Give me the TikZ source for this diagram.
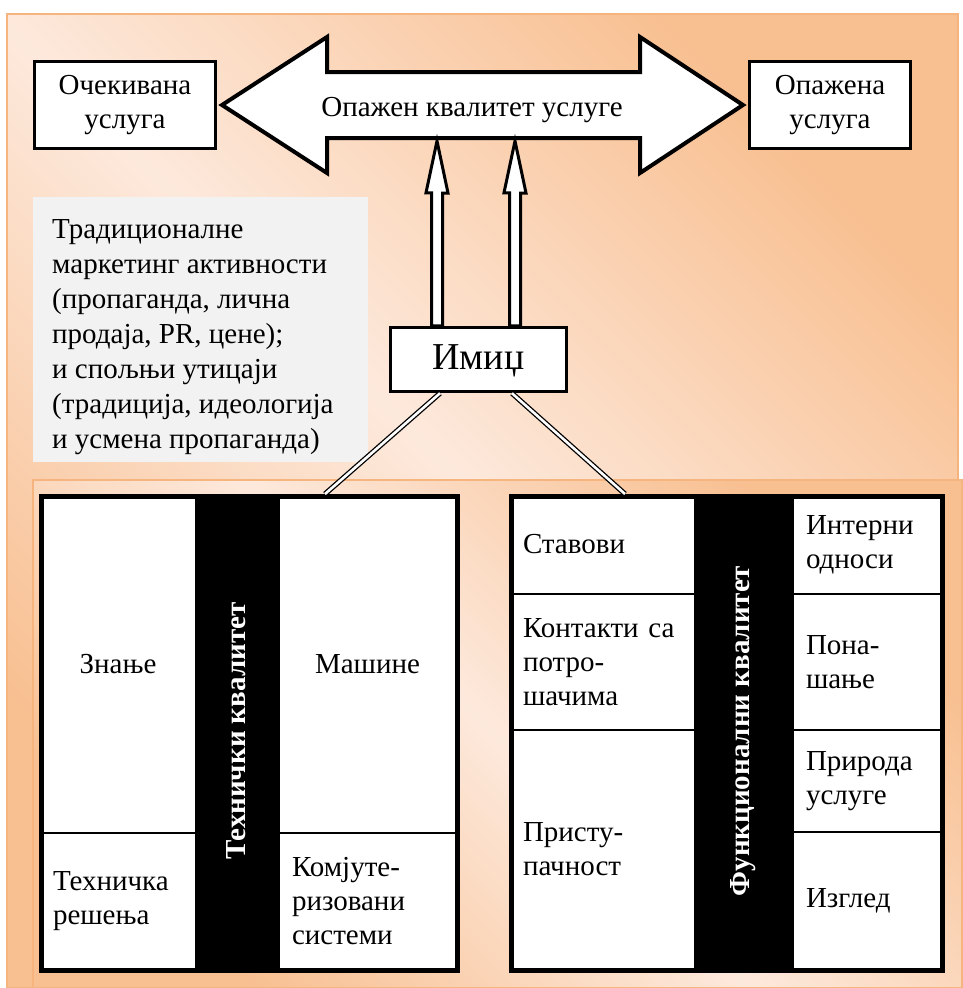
\documentclass[tikz,border=0pt]{standalone}
\usepackage{fontspec}
\setmainfont{Liberation Serif}
\usetikzlibrary{calc}
\definecolor{peachlt}{HTML}{FDE9DC}
\definecolor{peachdk}{HTML}{F8BF90}
\definecolor{peachln}{HTML}{F6B47F}
\definecolor{boxgray}{HTML}{F2F2F2}

\begin{document}
\begin{tikzpicture}[x=1pt,y=-1pt,
  every node/.style={font=\fontsize{29}{34}\selectfont, inner sep=0},
  panel/.style={top color=peachdk, bottom color=peachdk, middle color=peachlt,
                shading angle=135, draw=peachln, line width=2},
  tbox/.style={draw, line width=3.5, fill=white, align=center},
  cell/.style={draw, line width=2, fill=white, anchor=north west},
  lcell/.style={cell, align=left, inner xsep=13},
  bar/.style={fill=black, text=white, rotate=90,
              font=\fontsize{29}{34}\selectfont\bfseries},
  frame/.style={draw, line width=4.5, anchor=north west},
  blk/.style={draw, line width=3, fill=white, line join=miter},
  dbl/.style={draw, double=white, line width=1.3, double distance=2.6}
]
\useasboundingbox (0,0) rectangle (962,988);

% background panels
\shade[panel] (7,14) rectangle (958,988);
\shade[panel] (33,480) rectangle (962,988);

% note on other influences
\node[fill=boxgray, minimum width=335, minimum height=265, anchor=north west] (trad) at (33,197) {};
\node[anchor=north west, align=left, font=\fontsize{29}{35}\selectfont] (tradtxt)
  at ($(trad.north west)+(19,22)$)
  {Традиционалне\\маркетинг активности\\(пропаганда, лична\\продаја, PR, цене);\\и спољњи утицаји\\(традиција, идеологија\\и усмена пропаганда)};

% expected and perceived service
\node[tbox, minimum width=181, minimum height=87] (exp) at (125,105) {Очекивана\\услуга};
\node[tbox, minimum width=161, minimum height=87] (per) at (830,105) {Опажена\\услуга};

% perceived service quality: double block arrow
\draw[blk, line width=4] (222,105) -- (327,37) -- (327,72) -- (640,72) -- (640,37)
  -- (743,105) -- (640,173) -- (640,138) -- (327,138) -- (327,173) -- cycle;
\node (pq) at (472,110) {Опажен квалитет услуге};

% image
\node[tbox, minimum width=176, minimum height=64, text depth=4,
      font=\fontsize{38}{44}\selectfont] (img) at (478.5,359.5) {Имиџ};

% block arrows from the image up to the perceived quality
\coordinate (u1) at (437,141);
\coordinate (u2) at (515,141);
\draw[blk] (u1 |- img.north) ++(-5.5,0) -- ++(0,-133) -- ++(-5.5,0) -- (u1)
  -- ++(11,52) -- ++(-5.5,0) -- ++(0,133) -- cycle;
\draw[blk] (u2 |- img.north) ++(-5.5,0) -- ++(0,-133) -- ++(-5.5,0) -- (u2)
  -- ++(11,52) -- ++(-5.5,0) -- ++(0,133) -- cycle;

% technical quality
\node[cell, minimum width=156, minimum height=338] (k1) at (39,494) {Знање};
\node[lcell, text width=130, minimum height=136] (k2) at (39,832) {Техничка\\решења};
\node[cell, minimum width=177, minimum height=338] (k3) at (278,494) {Машине};
\node[lcell, text width=151, minimum height=136] (k4) at (278,832) {Комјуте-\\ризовани\\системи};
\node[bar, minimum width=474, minimum height=83] (tbar) at (236.5,731) {Технички квалитет};
\node[frame, minimum width=416, minimum height=474] (tq) at (39,494) {};

% functional quality
\node[lcell, text width=159, minimum height=99] (f1) at (509,494) {Ставови};
\node[lcell, text width=159, minimum height=136] (f2) at (509,593) {Контакти~са\\потро-\\шачима};
\node[lcell, text width=159, minimum height=239] (f3) at (509,729) {Присту-\\пачност};
\node[lcell, text width=122, minimum height=99] (f4) at (792,494) {Интерни\\односи};
\node[lcell, text width=122, minimum height=136] (f5) at (792,593) {Пона-\\шање};
\node[lcell, text width=122, minimum height=102] (f6) at (792,729) {Природа\\услуге};
\node[lcell, text width=122, minimum height=137] (f7) at (792,831) {Изглед};
\node[bar, minimum width=474, minimum height=98] (fbar) at (743,731) {Функционални квалитет};
\node[frame, minimum width=431, minimum height=474] (fq) at (509,494) {};

% double connectors from the image down to both qualities
\draw[dbl] ([xshift=-38.5]img.south) -- ($(tq.north west)+(286,0)$);
\draw[dbl] ([xshift=33.5]img.south) -- ($(fq.north west)+(116,0)$);
\end{tikzpicture}
\end{document}
